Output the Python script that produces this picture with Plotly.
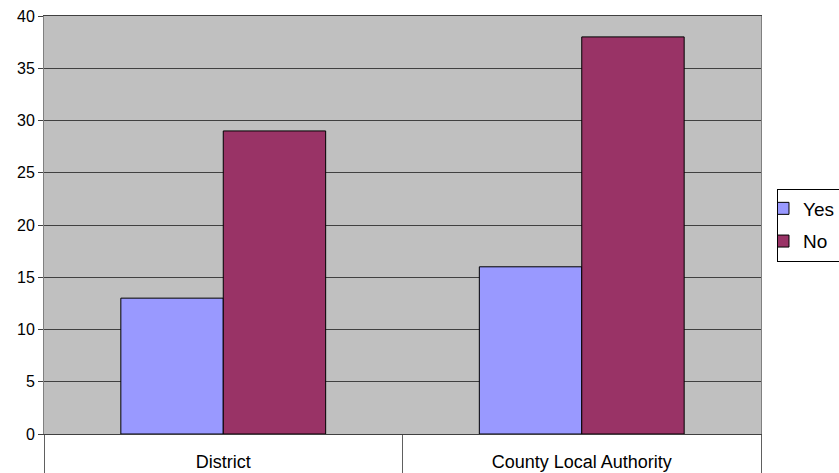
import plotly.graph_objects as go

categories = ["District", "County Local Authority"]
yes_values = [13, 16]
no_values = [29, 38]

fig = go.Figure()
fig.add_trace(go.Bar(name="Yes", x=categories, y=yes_values, legendgroup="yes",
                     marker=dict(color="#9999FF", line=dict(color="#000000", width=1))))
fig.add_trace(go.Bar(name="No", x=categories, y=no_values, legendgroup="no",
                     marker=dict(color="#993366", line=dict(color="#000000", width=1))))

fig.update_layout(
    width=839, height=473,
    margin=dict(l=44, r=78, t=16, b=39, autoexpand=False),
    barmode="group", bargap=0.4286, bargroupgap=0,
    plot_bgcolor="#C0C0C0", paper_bgcolor="#FFFFFF",
    font=dict(family="Liberation Sans, Arial, sans-serif", color="#000000", size=16),
    showlegend=True,
    legend=dict(x=1.0223, y=0.5, xanchor="left", yanchor="middle",
                bordercolor="#000000", borderwidth=1, bgcolor="#FFFFFF",
                font=dict(size=19), traceorder="grouped", tracegroupgap=5, itemwidth=30,
                indentation=-15),
)
fig.update_yaxes(range=[0, 40], dtick=5, showgrid=True, gridcolor="#404040", gridwidth=1,
                 showline=True, linecolor="#808080", linewidth=1, mirror=True,
                 ticks="outside", ticklen=5, tickcolor="#404040", zeroline=False,
                 tickfont=dict(size=16), automargin=False, ticklabeloverflow="allow")
fig.update_xaxes(showline=True, linecolor="#404040", linewidth=1, mirror=True,
                 ticks="outside", tickson="boundaries", ticklen=40, tickcolor="#606060",
                 tickfont=dict(size=18), ticklabelstandoff=11, automargin=False,
                 ticklabeloverflow="allow")

fig.write_html("out.html",
               config={"displayModeBar": False},
               post_script="document.body.style.margin='0';document.body.style.overflow='hidden';")
